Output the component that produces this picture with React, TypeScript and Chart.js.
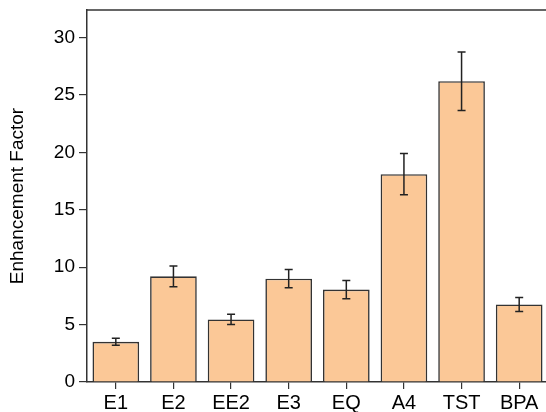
import React, { useEffect, useRef } from "react";
import { Chart, registerables } from "chart.js";

Chart.register(...registerables);

const categories = ["E1", "E2", "EE2", "E3", "EQ", "A4", "TST", "BPA"];
const enhancement = [3.5, 9.2, 5.45, 9.0, 8.05, 18.1, 26.2, 6.75];
const errors = [0.3, 0.9, 0.45, 0.8, 0.8, 1.8, 2.55, 0.6];
const yTickMax = 32.4;

const FONT = "'Liberation Sans', Arial, sans-serif";

const errorBarPlugin = {
  id: "errorBars",
  afterDatasetsDraw(chart: any) {
    const ctx = chart.ctx;
    const meta = chart.getDatasetMeta(0);
    const y = chart.scales.y;
    ctx.save();
    ctx.strokeStyle = "#222";
    ctx.lineWidth = 1.5;
    meta.data.forEach((bar: any, i: number) => {
      const x = bar.x;
      const yt = y.getPixelForValue(enhancement[i] + errors[i]);
      const yb = y.getPixelForValue(enhancement[i] - errors[i]);
      ctx.beginPath();
      ctx.moveTo(x, yt);
      ctx.lineTo(x, yb);
      ctx.moveTo(x - 4, yt);
      ctx.lineTo(x + 4, yt);
      ctx.moveTo(x - 4, yb);
      ctx.lineTo(x + 4, yb);
      ctx.stroke();
    });
    const a = chart.chartArea;
    ctx.strokeStyle = "#333";
    ctx.lineWidth = 1.5;
    ctx.beginPath();
    ctx.moveTo(a.left, a.top);
    ctx.lineTo(a.right, a.top);
    ctx.stroke();
    ctx.restore();
  },
};

export default function App() {
  const ref = useRef<HTMLCanvasElement>(null);
  useEffect(() => {
    document.body.style.margin = "0";
    document.body.style.overflow = "hidden";
    const chart = new Chart(ref.current!, {
      type: "bar",
      data: {
        labels: categories,
        datasets: [
          {
            data: enhancement,
            backgroundColor: "#FBC897",
            borderColor: "#333",
            borderWidth: 1.6,
            categoryPercentage: 1,
            barPercentage: 0.81,
          },
        ],
      },
      options: {
        animation: false,
        responsive: false,
        layout: { padding: { top: 10, right: 12, left: 0, bottom: 0 } },
        plugins: { legend: { display: false }, tooltip: { enabled: false } },
        scales: {
          x: {
            grid: {
              offset: false,
              drawOnChartArea: false,
              drawTicks: true,
              tickLength: 7,
              color: "#333",
              lineWidth: 1.2,
            },
            border: { display: true, color: "#333", width: 1.5 },
            ticks: { color: "#000", font: { family: FONT, size: 20 }, padding: 2 },
            afterFit: (s: any) => {
              s.height = 30;
              s.paddingLeft = 0;
              s.paddingRight = 0;
            },
          },
          y: {
            min: 0,
            max: yTickMax,
            grid: {
              drawOnChartArea: false,
              drawTicks: true,
              tickLength: 8,
              color: "#333",
              lineWidth: 1.2,
            },
            border: { display: true, color: "#333", width: 1.5 },
            ticks: {
              stepSize: 5,
              includeBounds: false,
              color: "#000",
              font: { family: FONT, size: 19 },
              padding: 4,
            },
            title: {
              display: true,
              text: "Enhancement Factor",
              color: "#000",
              font: { family: FONT, size: 19 },
              padding: { top: 6, bottom: 0 },
            },
            afterFit: (s: any) => {
              s.width = 87;
              s.paddingTop = 0;
              s.paddingBottom = 0;
            },
          },
        },
      },
      plugins: [errorBarPlugin],
    });
    return () => chart.destroy();
  }, []);
  return (
    <div style={{ width: 546, height: 412, overflow: "hidden", background: "#fff" }}>
      <div style={{ width: 560, height: 412 }}>
        <canvas ref={ref} width={560} height={412} style={{ display: "block" }} />
      </div>
    </div>
  );
}
